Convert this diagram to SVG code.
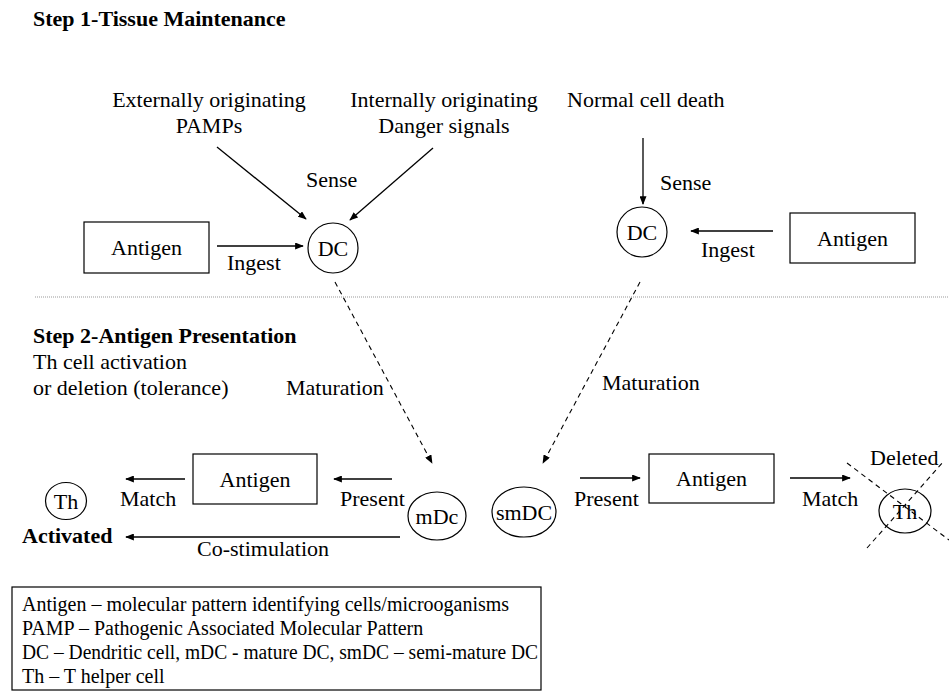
<svg xmlns="http://www.w3.org/2000/svg" width="949" height="691" viewBox="0 0 949 691" font-family="'Liberation Serif', Tinos, 'Times New Roman', serif">
  <style>
    text { font-family: 'Liberation Serif', Tinos, 'Times New Roman', serif; fill: #000; }
    .lbl { font-size: 22px; }
    .mid { text-anchor: middle; }
    .head { font-size: 22px; font-weight: bold; }
    .legend { font-size: 20px; }
    .box { fill: #fff; stroke: #000; stroke-width: 1.2; }
    .cell { fill: #fff; stroke: #000; stroke-width: 1.2; }
    .arrow { stroke: #000; stroke-width: 1.3; fill: none; marker-end: url(#head); }
    .dash { stroke: #000; stroke-width: 1.1; fill: none; stroke-dasharray: 5 4; }
    .dasharrow { stroke: #000; stroke-width: 1.1; fill: none; stroke-dasharray: 5 4; marker-end: url(#head); }
    .divider { stroke: #999; stroke-width: 1.2; stroke-dasharray: 1 1; }
  </style>
  <defs>
    <marker id="head" viewBox="0 0 10 8" refX="9" refY="4" markerWidth="9" markerHeight="7" markerUnits="userSpaceOnUse" orient="auto">
      <path d="M0,0 L10,4 L0,8 z" fill="#000"/>
    </marker>
  </defs>

  <!-- section headings -->
  <text class="head" x="33" y="26">Step 1-Tissue Maintenance</text>
  <line class="divider" x1="35" y1="297" x2="949" y2="297"/>
  <text class="head" x="33" y="343">Step 2-Antigen Presentation</text>
  <text class="lbl" x="33" y="369">Th cell activation</text>
  <text class="lbl" x="33" y="395">or deletion (tolerance)</text>

  <!-- signal sources -->
  <g id="pamps">
    <text class="lbl mid" x="209" y="107">Externally originating</text>
    <text class="lbl mid" x="209" y="133">PAMPs</text>
  </g>
  <g id="danger">
    <text class="lbl mid" x="444" y="107">Internally originating</text>
    <text class="lbl mid" x="444" y="133">Danger signals</text>
  </g>
  <g id="celldeath">
    <text class="lbl" x="567" y="107">Normal cell death</text>
  </g>

  <!-- step 1 nodes -->
  <g id="antigen1">
    <rect class="box" x="84" y="222" width="125" height="51"/>
    <text class="lbl mid" x="146.5" y="255">Antigen</text>
  </g>
  <g id="dc1">
    <circle class="cell" cx="333" cy="248" r="25"/>
    <text class="lbl mid" x="333" y="256">DC</text>
  </g>
  <g id="dc2">
    <circle class="cell" cx="642" cy="232" r="25"/>
    <text class="lbl mid" x="642" y="240">DC</text>
  </g>
  <g id="antigen2">
    <rect class="box" x="790" y="213" width="125" height="50"/>
    <text class="lbl mid" x="852.5" y="246">Antigen</text>
  </g>

  <!-- step 2 nodes -->
  <g id="th1">
    <ellipse class="cell" cx="66" cy="501" rx="20.5" ry="18.5"/>
    <text class="lbl mid" x="66" y="509">Th</text>
  </g>
  <g id="activated">
    <text class="head" x="22" y="543">Activated</text>
  </g>
  <g id="antigen3">
    <rect class="box" x="193" y="454" width="124" height="50"/>
    <text class="lbl mid" x="255" y="487">Antigen</text>
  </g>
  <g id="mdc">
    <ellipse class="cell" cx="437" cy="516" rx="29" ry="24"/>
    <text class="lbl mid" x="437" y="524">mDc</text>
  </g>
  <g id="smdc">
    <ellipse class="cell" cx="524" cy="512" rx="32" ry="25"/>
    <text class="lbl mid" x="524" y="520">smDC</text>
  </g>
  <g id="antigen4">
    <rect class="box" x="649" y="454" width="125" height="49"/>
    <text class="lbl mid" x="711.5" y="486">Antigen</text>
  </g>
  <g id="th2">
    <ellipse class="cell" cx="905" cy="511" rx="26" ry="22"/>
    <text class="lbl mid" x="905" y="519">Th</text>
    <text class="lbl" x="870" y="465">Deleted</text>
    <line class="dash" x1="847" y1="463" x2="949" y2="540"/>
    <line class="dash" x1="867" y1="548" x2="943" y2="462"/>
  </g>

  <!-- connectors -->
  <g id="connectors">
    <line class="arrow" x1="217" y1="147" x2="306" y2="219"/>
    <line class="arrow" x1="433" y1="148" x2="350" y2="220"/>
    <line class="arrow" x1="217" y1="246" x2="303" y2="246"/>
    <line class="arrow" x1="643" y1="138" x2="643" y2="204"/>
    <line class="arrow" x1="773" y1="231" x2="691" y2="231"/>
    <line class="dasharrow" x1="335" y1="282" x2="432" y2="463"/>
    <line class="dasharrow" x1="640" y1="282" x2="543" y2="463"/>
    <line class="arrow" x1="185" y1="479" x2="126" y2="479"/>
    <line class="arrow" x1="392" y1="479" x2="334" y2="479"/>
    <line class="arrow" x1="400" y1="537" x2="126" y2="537"/>
    <line class="arrow" x1="580" y1="478" x2="640" y2="478"/>
    <line class="arrow" x1="790" y1="478" x2="850" y2="478"/>
  </g>

  <!-- connector labels -->
  <g id="labels">
    <text class="lbl" x="306" y="187">Sense</text>
    <text class="lbl" x="227" y="270">Ingest</text>
    <text class="lbl" x="660" y="190">Sense</text>
    <text class="lbl" x="701" y="257">Ingest</text>
    <text class="lbl" x="286" y="395">Maturation</text>
    <text class="lbl" x="602" y="390">Maturation</text>
    <text class="lbl" x="120" y="506">Match</text>
    <text class="lbl" x="340" y="506">Present</text>
    <text class="lbl" x="197" y="556">Co-stimulation</text>
    <text class="lbl" x="574" y="506">Present</text>
    <text class="lbl" x="802" y="506">Match</text>
  </g>

  <!-- key -->
  <g id="legend">
    <rect class="box" x="12" y="587" width="529" height="103"/>
    <text class="legend" x="22" y="611">Antigen – molecular pattern identifying cells/microoganisms</text>
    <text class="legend" x="22" y="635">PAMP – Pathogenic Associated Molecular Pattern</text>
    <text class="legend" x="22" y="659" textLength="516" lengthAdjust="spacingAndGlyphs">DC – Dendritic cell, mDC - mature DC, smDC – semi-mature DC</text>
    <text class="legend" x="22" y="683">Th – T helper cell</text>
  </g>
</svg>
